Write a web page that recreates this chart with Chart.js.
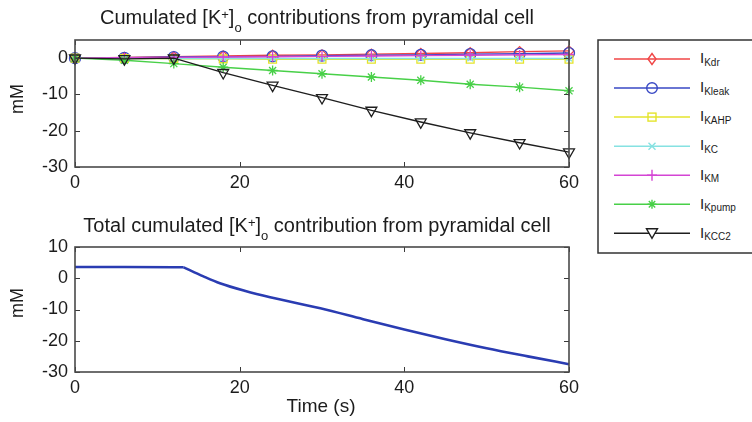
<!DOCTYPE html>
<html lang="en">
  <head>
    <meta charset="UTF-8" />
    <title>Cumulated [K+]o contributions from pyramidal cell</title>
    <script src="https://cdn.jsdelivr.net/npm/chart.js@4.4.1/dist/chart.umd.min.js"></script>
    <style>
      body {
        margin: 0;
        background: #fff;
        font-family: "Liberation Sans", Arial, sans-serif;
        color: #1c1c1c;
      }
      #page {
        position: relative;
        width: 752px;
        height: 422px;
        overflow: hidden;
      }
      .panel {
        position: absolute;
        left: 0;
        width: 600px;
      }
      #topPanel {
        top: 0;
        height: 200px;
      }
      #bottomPanel {
        top: 200px;
        height: 222px;
      }
      .title {
        position: absolute;
        font-size: 20px;
        line-height: 20px;
        white-space: nowrap;
        transform: translateX(-50%);
      }
      .title sup,
      .title sub {
        font-size: 13px;
        line-height: 0;
      }
      .title sup {
        vertical-align: 5px;
      }
      .title sub {
        vertical-align: -8px;
      }
      .ylab {
        position: absolute;
        font-size: 18px;
        line-height: 18px;
        white-space: nowrap;
        transform: translate(-50%, -50%) rotate(-90deg);
      }
      .xlab {
        position: absolute;
        font-size: 19px;
        line-height: 19px;
        white-space: nowrap;
        transform: translateX(-50%);
      }
      #legend {
        position: absolute;
        left: 0;
        top: 0;
      }
    </style>
  </head>
  <body>
    <div id="page">
      <div class="panel" id="topPanel"><canvas id="topChart"></canvas></div>
      <div class="panel" id="bottomPanel"><canvas id="bottomChart"></canvas></div>

      <div class="title" style="left: 317px; top: 7px">
        Cumulated [K<sup>+</sup>]<sub>o</sub> contributions from pyramidal cell
      </div>
      <div class="title" style="left: 317px; top: 215px">
        Total cumulated [K<sup>+</sup>]<sub>o</sub> contribution from pyramidal cell
      </div>
      <div class="ylab" style="left: 17px; top: 99px">mM</div>
      <div class="ylab" style="left: 17px; top: 303px">mM</div>
      <div class="xlab" style="left: 321px; top: 396px">Time (s)</div>

      <svg id="legend" width="752" height="422"></svg>
    </div>

    <script>
      // top panel: values sampled every 6 s (marker positions)
      const timeTop = [0, 6, 12, 18, 24, 30, 36, 42, 48, 54, 60]
      const iKdr = [0, 0.2, 0.4, 0.6, 0.8, 0.9, 1.1, 1.3, 1.5, 1.8, 2.0]
      const iKleak = [0, 0.1, 0.3, 0.4, 0.5, 0.7, 0.8, 0.9, 1.1, 1.2, 1.4]
      const iKAHP = [0, -0.1, -0.2, -0.2, -0.3, -0.3, -0.3, -0.3, -0.3, -0.3, -0.3]
      const iKC = [0, -0.1, -0.1, -0.1, -0.1, -0.1, -0.1, -0.1, -0.1, -0.1, -0.1]
      const iKM = [0, 0.1, 0.2, 0.3, 0.4, 0.5, 0.6, 0.7, 0.8, 0.9, 1.0]
      const iKpump = [0, -0.6, -1.5, -2.5, -3.4, -4.3, -5.2, -6.1, -7.2, -8.0, -9.0]
      const iKCC2 = [0, -0.2, 0, -4.0, -7.5, -10.9, -14.4, -17.6, -20.6, -23.3, -25.9]

      // bottom panel: total, flat until the KCC2 onset then curving down
      const timeTotal = [0, 6, 12, 13.2, 15.6, 17.6, 20.7, 23.7, 29.8, 35, 40, 45, 50, 55, 60]
      const totalK = [3.6, 3.6, 3.5, 3.5, 0.6, -1.6, -4.1, -6.1, -9.6, -13.1, -16.4, -19.5, -22.4, -25.0, -27.5]
      const onsetIndex = 3

      const xTicks = [0, 20, 40, 60]
      const yTicksTop = [0, -10, -20, -30]
      const yTicksBottom = [10, 0, -10, -20, -30]

      const seriesNames = ["Kdr", "Kleak", "KAHP", "KC", "KM", "Kpump", "KCC2"]
      const seriesValues = [iKdr, iKleak, iKAHP, iKC, iKM, iKpump, iKCC2]
      const seriesColors = ["#f04646", "#3848c4", "#e4e42c", "#86e2e2", "#d444d4", "#48d048", "#1e1e1e"]
      const seriesMarkers = ["rectRot", "circle", "rect", "crossRot", "cross", "star", "triangle"]
      const markerRadius = [5, 5.5, 5.5, 4, 5, 5, 6.3]

      const tickFont = { family: "'Liberation Sans', Arial, sans-serif", size: 18 }

      const matlabAxes = {
        id: "matlabAxes",
        afterDraw(chart) {
          const { ctx, chartArea: a, scales } = chart
          ctx.save()
          ctx.strokeStyle = "#3a3a3a"
          ctx.lineWidth = 1
          ctx.beginPath()
          scales.x.ticks.forEach((t) => {
            const px = Math.round(scales.x.getPixelForValue(t.value)) + 0.5
            ctx.moveTo(px, a.bottom)
            ctx.lineTo(px, a.bottom - 5)
            ctx.moveTo(px, a.top)
            ctx.lineTo(px, a.top + 5)
          })
          scales.y.ticks.forEach((t) => {
            const py = Math.round(scales.y.getPixelForValue(t.value)) + 0.5
            ctx.moveTo(a.left, py)
            ctx.lineTo(a.left + 5, py)
            ctx.moveTo(a.right, py)
            ctx.lineTo(a.right - 5, py)
          })
          ctx.stroke()
          ctx.lineWidth = 1.6
          ctx.strokeStyle = "#4a4a4a"
          ctx.strokeRect(a.left, a.top, a.right - a.left, a.bottom - a.top)
          ctx.restore()
        },
      }

      function axesOptions(yMin, yMax, yTicks, padTop, xHeight) {
        return {
          responsive: true,
          maintainAspectRatio: false,
          animation: false,
          layout: { padding: { left: 0, right: 31, top: padTop, bottom: 0 } },
          plugins: { legend: { display: false }, tooltip: { enabled: false } },
          scales: {
            x: {
              type: "linear",
              min: 0,
              max: 60,
              grid: { display: false, drawTicks: false },
              border: { display: false },
              afterBuildTicks: (s) => {
                s.ticks = xTicks.map((v) => ({ value: v }))
              },
              afterFit: (s) => {
                s.height = xHeight
              },
              ticks: { font: tickFont, color: "#1c1c1c", padding: 5, maxRotation: 0 },
            },
            y: {
              min: yMin,
              max: yMax,
              grid: { display: false, drawTicks: false },
              border: { display: false },
              afterBuildTicks: (s) => {
                s.ticks = yTicks.map((v) => ({ value: v }))
              },
              afterFit: (s) => {
                s.width = 75
              },
              ticks: { font: tickFont, color: "#1c1c1c", padding: 7 },
            },
          },
        }
      }

      const topDatasets = seriesNames.map((name, i) => ({
        label: "I" + name,
        data: timeTop.map((t, j) => ({ x: t, y: seriesValues[i][j] })),
        borderColor: seriesColors[i],
        borderWidth: 1.4,
        pointStyle: seriesMarkers[i],
        pointRadius: markerRadius[i],
        pointRotation: seriesMarkers[i] === "triangle" ? 180 : 0,
        pointBorderColor: seriesColors[i],
        pointBackgroundColor: "rgba(0,0,0,0)",
        pointBorderWidth: 1.3,
        tension: 0,
        clip: false,
        order: seriesNames.length - 1 - i,
      }))

      new Chart(document.getElementById("topChart"), {
        type: "line",
        data: { datasets: topDatasets },
        options: axesOptions(-30, 5, yTicksTop, 40, 33),
        plugins: [matlabAxes],
      })

      const totalPoints = timeTotal.map((t, j) => ({ x: t, y: totalK[j] }))
      const totalStyle = { borderColor: "#2a3cb2", borderWidth: 2.6, pointRadius: 0, clip: false }

      new Chart(document.getElementById("bottomChart"), {
        type: "line",
        data: {
          datasets: [
            { label: "Total", data: totalPoints.slice(0, onsetIndex + 1), tension: 0, ...totalStyle },
            { label: "Total", data: totalPoints.slice(onsetIndex), cubicInterpolationMode: "monotone", ...totalStyle },
          ],
        },
        options: axesOptions(-30, 10, yTicksBottom, 47, 50),
        plugins: [matlabAxes],
      })

      // legend (drawn in svg so the labels can carry subscripts)
      function drawLegend() {
        const svg = document.getElementById("legend")
        const ns = "http://www.w3.org/2000/svg"
        const add = (tag, attrs, parent) => {
          const el = document.createElementNS(ns, tag)
          for (const k in attrs) el.setAttribute(k, attrs[k])
          ;(parent || svg).appendChild(el)
          return el
        }
        add("rect", { x: 598, y: 40, width: 200, height: 213, fill: "#fff", stroke: "#333", "stroke-width": 1.5 })

        const mx = 652
        seriesNames.forEach((name, i) => {
          const y = 59 + i * 29.05
          const c = seriesColors[i]
          const st = { fill: "none", stroke: c, "stroke-width": 1.4 }
          add("line", { x1: 614, y1: y, x2: 690, y2: y, stroke: c, "stroke-width": 1.5 })
          const m = seriesMarkers[i]
          if (m === "rectRot") {
            add("polygon", { points: `${mx},${y - 5.5} ${mx + 4},${y} ${mx},${y + 5.5} ${mx - 4},${y}`, ...st })
          } else if (m === "circle") {
            add("circle", { cx: mx, cy: y, r: 5.3, ...st })
          } else if (m === "rect") {
            add("rect", { x: mx - 4, y: y - 4, width: 8, height: 8, ...st })
          } else if (m === "crossRot") {
            add("path", { d: `M${mx - 3.5},${y - 3.5}L${mx + 3.5},${y + 3.5}M${mx - 3.5},${y + 3.5}L${mx + 3.5},${y - 3.5}`, ...st })
          } else if (m === "cross") {
            add("path", { d: `M${mx},${y - 5.5}L${mx},${y + 5.5}M${mx - 5},${y}L${mx + 5},${y}`, ...st })
          } else if (m === "star") {
            add("path", {
              d: `M${mx},${y - 4.5}L${mx},${y + 4.5}M${mx - 4.5},${y}L${mx + 4.5},${y}M${mx - 3.2},${y - 3.2}L${mx + 3.2},${y + 3.2}M${mx - 3.2},${y + 3.2}L${mx + 3.2},${y - 3.2}`,
              ...st,
            })
          } else {
            add("polygon", { points: `${mx - 5.5},${y - 4.5} ${mx + 5.5},${y - 4.5} ${mx},${y + 5}`, fill: "#fff", stroke: c, "stroke-width": 1.4 })
          }

          const text = add("text", {
            x: 700,
            y: y + 4.3,
            "font-family": "'Liberation Sans', Arial, sans-serif",
            "font-size": 15,
            fill: "#1c1c1c",
          })
          text.textContent = "I"
          const sub = add("tspan", { dy: 2.5, "font-size": 10 }, text)
          sub.textContent = name
        })
      }

      drawLegend()
    </script>
  </body>
</html>
